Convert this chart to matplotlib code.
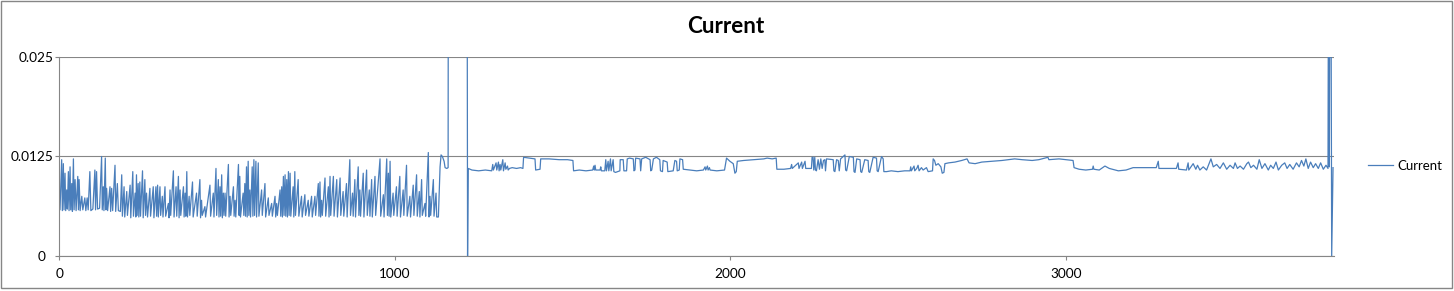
# Current trace, Excel style line chart

import matplotlib
matplotlib.use('Agg')
import matplotlib.pyplot as plt
import matplotlib.transforms as mtransforms
from matplotlib.patches import Rectangle

# (sample, current); values above 0.025 run off the top
early = [
    (0, 0.0083), (2, 0.0058), (7, 0.0121), (9, 0.0057), (12, 0.0116), (14, 0.0058),
    (17, 0.0104), (19, 0.0057), (22, 0.0083), (24, 0.0059), (27, 0.0106), (29, 0.0057),
    (32, 0.0112), (34, 0.0058), (37, 0.0091), (39, 0.0056), (42, 0.0122), (44, 0.0058),
    (47, 0.0096), (50, 0.0057), (55, 0.0100), (57, 0.0058), (59, 0.0096), (62, 0.0057),
    (67, 0.0075), (70, 0.0058), (76, 0.0073), (79, 0.0057), (83, 0.0073), (86, 0.0058),
    (91, 0.0106), (94, 0.0057), (100, 0.0059), (106, 0.0108), (108, 0.0058), (111, 0.0106),
    (114, 0.0059), (120, 0.0060), (126, 0.0125), (128, 0.0058), (131, 0.0087), (133, 0.0057),
    (137, 0.0123), (139, 0.0058), (141, 0.0085), (144, 0.0057), (151, 0.0087), (153, 0.0056),
    (156, 0.0085), (159, 0.0057), (166, 0.0114), (168, 0.0056), (173, 0.0091), (176, 0.0057),
    (182, 0.0056), (186, 0.0102), (188, 0.0050), (193, 0.0087), (195, 0.0049), (201, 0.0081),
    (203, 0.0051), (211, 0.0089), (213, 0.0048), (219, 0.0106), (221, 0.0050), (226, 0.0079),
    (228, 0.0049), (230, 0.0102), (232, 0.0051), (235, 0.0091), (237, 0.0049), (240, 0.0093),
    (242, 0.0050), (248, 0.0107), (250, 0.0048), (255, 0.0096), (257, 0.0051), (260, 0.0079),
    (263, 0.0049), (270, 0.0085), (272, 0.0050), (280, 0.0087), (282, 0.0048), (288, 0.0087),
    (290, 0.0050), (293, 0.0089), (295, 0.0049), (300, 0.0087), (302, 0.0051), (307, 0.0075),
    (309, 0.0049), (315, 0.0087), (317, 0.0050), (325, 0.0066), (327, 0.0048), (330, 0.0083),
    (332, 0.0051), (340, 0.0107), (342, 0.0049), (348, 0.0087), (350, 0.0050), (355, 0.0100),
    (357, 0.0048), (360, 0.0083), (362, 0.0051), (370, 0.0087), (372, 0.0049), (375, 0.0079),
    (377, 0.0050), (380, 0.0106), (382, 0.0049), (387, 0.0075), (389, 0.0051), (397, 0.0093),
    (399, 0.0049), (409, 0.0079), (411, 0.0050), (419, 0.0096), (421, 0.0048), (424, 0.0070),
    (426, 0.0051), (434, 0.0062), (436, 0.0049), (449, 0.0089), (451, 0.0050), (459, 0.0079),
    (461, 0.0049), (467, 0.0110), (469, 0.0051), (474, 0.0096), (476, 0.0049), (479, 0.0087),
    (481, 0.0050), (484, 0.0102), (486, 0.0048), (489, 0.0079), (491, 0.0051), (494, 0.0079),
    (496, 0.0050), (504, 0.0115), (506, 0.0049), (509, 0.0075), (511, 0.0051), (519, 0.0087),
    (521, 0.0050), (524, 0.0070), (526, 0.0049), (534, 0.0115), (536, 0.0051), (538, 0.0100),
    (540, 0.0049), (548, 0.0079), (550, 0.0051), (553, 0.0091), (555, 0.0050), (558, 0.0112),
    (560, 0.0049), (563, 0.0119), (565, 0.0051), (568, 0.0083), (570, 0.0049), (575, 0.0112),
    (577, 0.0050), (580, 0.0121), (582, 0.0051), (586, 0.0119), (588, 0.0049), (593, 0.0117),
    (595, 0.0050), (603, 0.0083), (605, 0.0051), (613, 0.0091), (615, 0.0049), (623, 0.0073),
    (625, 0.0051), (633, 0.0066), (635, 0.0050), (643, 0.0075), (645, 0.0049), (648, 0.0066),
    (650, 0.0051), (658, 0.0083), (660, 0.0050), (663, 0.0087), (665, 0.0049), (668, 0.0100),
    (670, 0.0051), (673, 0.0102), (675, 0.0050), (678, 0.0096), (680, 0.0049), (683, 0.0106),
    (685, 0.0051), (688, 0.0104), (690, 0.0050), (697, 0.0087), (699, 0.0049), (702, 0.0106),
    (704, 0.0051), (712, 0.0096), (714, 0.0050), (722, 0.0075), (724, 0.0049), (732, 0.0077),
    (734, 0.0051), (742, 0.0070), (744, 0.0050), (752, 0.0075), (754, 0.0049), (762, 0.0075),
    (764, 0.0051), (772, 0.0091), (774, 0.0050), (777, 0.0093), (779, 0.0049), (782, 0.0070),
    (784, 0.0051), (792, 0.0098), (794, 0.0050), (802, 0.0087), (804, 0.0049), (807, 0.0100),
    (809, 0.0051), (817, 0.0100), (819, 0.0050), (827, 0.0096), (829, 0.0049), (837, 0.0098),
    (839, 0.0051), (846, 0.0081), (848, 0.0050), (856, 0.0091), (858, 0.0049), (866, 0.0121),
    (868, 0.0051), (874, 0.0079), (876, 0.0050), (881, 0.0096), (883, 0.0049), (891, 0.0112),
    (893, 0.0051), (896, 0.0083), (898, 0.0050), (906, 0.0104), (908, 0.0049), (916, 0.0108),
    (918, 0.0051), (924, 0.0083), (926, 0.0050), (931, 0.0096), (933, 0.0049), (941, 0.0100),
    (943, 0.0051), (956, 0.0122), (958, 0.0050), (966, 0.0077), (968, 0.0049), (976, 0.0122),
    (978, 0.0051), (981, 0.0104), (983, 0.0050), (986, 0.0119), (988, 0.0049), (995, 0.0079),
    (997, 0.0051), (1005, 0.0087), (1007, 0.0050), (1015, 0.0100), (1017, 0.0049), (1025, 0.0083),
    (1027, 0.0051), (1035, 0.0114), (1037, 0.0050), (1045, 0.0075), (1047, 0.0049), (1055, 0.0089),
    (1057, 0.0051), (1065, 0.0102), (1067, 0.0050), (1073, 0.0081), (1075, 0.0049), (1080, 0.0096),
    (1082, 0.0051), (1090, 0.0066), (1092, 0.0050), (1100, 0.0130), (1102, 0.0049), (1105, 0.0075),
    (1107, 0.0051), (1115, 0.0096), (1117, 0.0050), (1123, 0.0079), (1125, 0.0049), (1130, 0.0049),
]

# jump off the top, drop to zero, then the higher plateau
jump = [
    (1135, 0.0112), (1138, 0.0127), (1142, 0.0125), (1147, 0.0119), (1150, 0.0111),
    (1155, 0.0110), (1159, 0.0111), (1160, 0.0600), (1215, 0.0600), (1217, 0.0),
]

late = [
    (1219, 0.0110), (1230, 0.0108), (1250, 0.0107), (1270, 0.0108), (1289, 0.0107),
    (1292, 0.0115), (1294, 0.0108), (1302, 0.0117), (1304, 0.0108), (1309, 0.0118),
    (1311, 0.0107), (1314, 0.0115), (1316, 0.0108), (1322, 0.0121), (1324, 0.0107),
    (1329, 0.0117), (1331, 0.0109), (1336, 0.0113), (1338, 0.0108), (1342, 0.0110),
    (1350, 0.0111), (1363, 0.0110), (1375, 0.0111), (1382, 0.0110), (1384, 0.0124),
    (1400, 0.0123), (1418, 0.0122), (1420, 0.0108), (1433, 0.0109), (1435, 0.0122),
    (1460, 0.0122), (1490, 0.0121), (1515, 0.0121), (1531, 0.0120), (1533, 0.0107),
    (1550, 0.0108), (1570, 0.0107), (1590, 0.0108), (1593, 0.0113), (1595, 0.0108),
    (1597, 0.0114), (1599, 0.0108), (1612, 0.0108), (1614, 0.0112), (1616, 0.0107),
    (1626, 0.0107), (1629, 0.0121), (1631, 0.0107), (1636, 0.0119), (1638, 0.0107),
    (1643, 0.0122), (1645, 0.0107), (1651, 0.0121), (1653, 0.0106), (1658, 0.0105),
    (1665, 0.0106), (1671, 0.0107), (1672, 0.0121), (1681, 0.0121), (1683, 0.0107),
    (1691, 0.0107), (1693, 0.0122), (1700, 0.0123), (1711, 0.0122), (1713, 0.0107),
    (1716, 0.0108), (1718, 0.0123), (1731, 0.0122), (1733, 0.0107), (1736, 0.0122),
    (1748, 0.0124), (1761, 0.0121), (1763, 0.0107), (1766, 0.0108), (1771, 0.0122),
    (1780, 0.0124), (1790, 0.0121), (1792, 0.0107), (1798, 0.0106), (1800, 0.0120),
    (1812, 0.0118), (1814, 0.0106), (1830, 0.0107), (1835, 0.0120), (1840, 0.0119),
    (1842, 0.0107), (1848, 0.0108), (1850, 0.0122), (1858, 0.0121), (1860, 0.0109),
    (1880, 0.0108), (1900, 0.0107), (1920, 0.0108), (1925, 0.0112), (1927, 0.0108),
    (1932, 0.0113), (1934, 0.0108), (1938, 0.0111), (1940, 0.0108), (1960, 0.0107),
    (1983, 0.0108), (1989, 0.0123), (1999, 0.0119), (2009, 0.0116), (2014, 0.0104),
    (2018, 0.0106), (2021, 0.0119), (2040, 0.0120), (2070, 0.0121), (2100, 0.0122),
    (2110, 0.0123), (2125, 0.0122), (2137, 0.0123), (2139, 0.0109), (2160, 0.0109),
    (2180, 0.0110), (2183, 0.0115), (2185, 0.0110), (2203, 0.0117), (2205, 0.0110),
    (2213, 0.0118), (2215, 0.0110), (2223, 0.0119), (2225, 0.0110), (2242, 0.0110),
    (2244, 0.0124), (2247, 0.0124), (2249, 0.0108), (2252, 0.0124), (2254, 0.0108),
    (2257, 0.0107), (2262, 0.0121), (2266, 0.0109), (2270, 0.0122), (2274, 0.0110),
    (2278, 0.0120), (2282, 0.0121), (2284, 0.0107), (2287, 0.0122), (2307, 0.0121),
    (2309, 0.0107), (2312, 0.0106), (2317, 0.0121), (2322, 0.0120), (2325, 0.0107),
    (2329, 0.0122), (2342, 0.0127), (2344, 0.0108), (2347, 0.0107), (2355, 0.0125),
    (2367, 0.0124), (2369, 0.0106), (2372, 0.0105), (2377, 0.0122), (2387, 0.0121),
    (2389, 0.0106), (2392, 0.0105), (2401, 0.0121), (2411, 0.0120), (2413, 0.0106),
    (2416, 0.0105), (2426, 0.0124), (2436, 0.0123), (2438, 0.0107), (2441, 0.0106),
    (2451, 0.0125), (2456, 0.0122), (2458, 0.0106), (2466, 0.0106), (2480, 0.0107),
    (2500, 0.0106), (2520, 0.0107), (2536, 0.0107), (2538, 0.0112), (2540, 0.0107),
    (2548, 0.0113), (2550, 0.0107), (2556, 0.0110), (2560, 0.0114), (2563, 0.0107),
    (2570, 0.0111), (2575, 0.0108), (2585, 0.0111), (2590, 0.0106), (2603, 0.0107),
    (2605, 0.0122), (2609, 0.0120), (2613, 0.0114), (2620, 0.0116), (2628, 0.0112),
    (2632, 0.0104), (2637, 0.0105), (2640, 0.0116), (2651, 0.0117), (2670, 0.0118),
    (2690, 0.0120), (2706, 0.0122), (2712, 0.0117), (2730, 0.0116), (2750, 0.0118),
    (2780, 0.0119), (2810, 0.0120), (2848, 0.0122), (2870, 0.0121), (2900, 0.0120),
    (2920, 0.0121), (2947, 0.0124), (2950, 0.0121), (2980, 0.0122), (3000, 0.0121),
    (3022, 0.0120), (3025, 0.0111), (3040, 0.0109), (3060, 0.0108), (3080, 0.0109),
    (3082, 0.0113), (3084, 0.0109), (3100, 0.0108), (3117, 0.0113), (3130, 0.0110),
    (3157, 0.0107), (3180, 0.0108), (3201, 0.0111), (3231, 0.0111), (3270, 0.0111),
    (3276, 0.0119), (3278, 0.0110), (3300, 0.0110), (3330, 0.0110), (3335, 0.0117),
    (3337, 0.0109), (3360, 0.0108), (3365, 0.0117), (3367, 0.0108), (3380, 0.0116),
    (3388, 0.0109), (3393, 0.0114), (3400, 0.0108), (3410, 0.0112), (3420, 0.0108),
    (3433, 0.0122), (3440, 0.0112), (3450, 0.0115), (3460, 0.0110), (3470, 0.0117),
    (3480, 0.0109), (3490, 0.0114), (3500, 0.0110), (3505, 0.0117), (3512, 0.0110),
    (3520, 0.0113), (3530, 0.0109), (3540, 0.0116), (3545, 0.0118), (3552, 0.0111),
    (3560, 0.0114), (3570, 0.0109), (3577, 0.0121), (3585, 0.0110), (3594, 0.0116),
    (3604, 0.0108), (3611, 0.0114), (3619, 0.0110), (3627, 0.0118), (3634, 0.0108),
    (3644, 0.0114), (3653, 0.0117), (3660, 0.0110), (3668, 0.0115), (3678, 0.0109),
    (3688, 0.0117), (3696, 0.0112), (3703, 0.0120), (3710, 0.0113), (3716, 0.0122),
    (3723, 0.0110), (3730, 0.0118), (3738, 0.0111), (3745, 0.0116), (3753, 0.0110),
    (3760, 0.0117), (3768, 0.0109), (3776, 0.0114), (3782, 0.0110),
]

# spike at the very end
tail = [(3784, 0.05), (3786, 0.0112), (3788, 0.05), (3790, 0.05), (3793, 0.0), (3797, 0.0111)]

y_ticks = [0, 0.0125, 0.025]
y_labels = ['0', '0.0125', '0.025']
x_ticks = [0, 1000, 2000, 3000]

series_name = 'Current'
line_col = '#4A7EBB'
grey = '#868686'

plt.rcParams['font.family'] = ['Lato', 'DejaVu Sans']

pts = early + jump + late + tail
xs = [p[0] for p in pts]
ys = [p[1] for p in pts]

fig = plt.figure(figsize=(14.54, 2.91), dpi=100)
ax = fig.add_axes([0.0408, 0.1203, 0.8767, 0.6838])

ax.plot(xs, ys, color=line_col, lw=0.9, label=series_name)

ax.set_xlim(0, 3800)
ax.set_ylim(0, 0.025)
ax.set_yticks(y_ticks)
ax.set_yticklabels(y_labels)
ax.set_xticks(x_ticks)
ax.set_xticklabels([str(t) for t in x_ticks])

ax.yaxis.grid(True, color=grey, lw=0.8)
ax.set_axisbelow(True)
for s in ['top', 'right']:
    ax.spines[s].set_visible(False)
for s in ['left', 'bottom']:
    ax.spines[s].set_color(grey)
    ax.spines[s].set_linewidth(0.8)
ax.tick_params(axis='both', colors=grey, labelcolor='black', labelsize=9.8,
               length=3, width=0.8, direction='out')
ax.tick_params(axis='y', pad=1)
ax.tick_params(axis='x', pad=6)

# the zero label sits a bit further left in the original
zero_lab = ax.get_yticklabels()[0]
zero_lab.set_transform(zero_lab.get_transform() +
                       mtransforms.ScaledTranslation(-0.08, 0, fig.dpi_scale_trans))

fig.text(0.4993, 1 - 26.7 / 291, 'Current', ha='center', va='center',
         fontsize=16.2, fontweight='bold')

ax.legend(loc='center left', bbox_to_anchor=(0.9409, 0.4296),
          bbox_transform=fig.transFigure, frameon=False, fontsize=9.5,
          handlelength=1.9, handletextpad=0.3, borderpad=0, borderaxespad=0)

# chart border
fig.patches.append(Rectangle((0.00103, 0.0086), 0.9976, 0.9863, transform=fig.transFigure,
                             fill=False, edgecolor=grey, lw=1.0))

fig.savefig('out.png', dpi=100)
